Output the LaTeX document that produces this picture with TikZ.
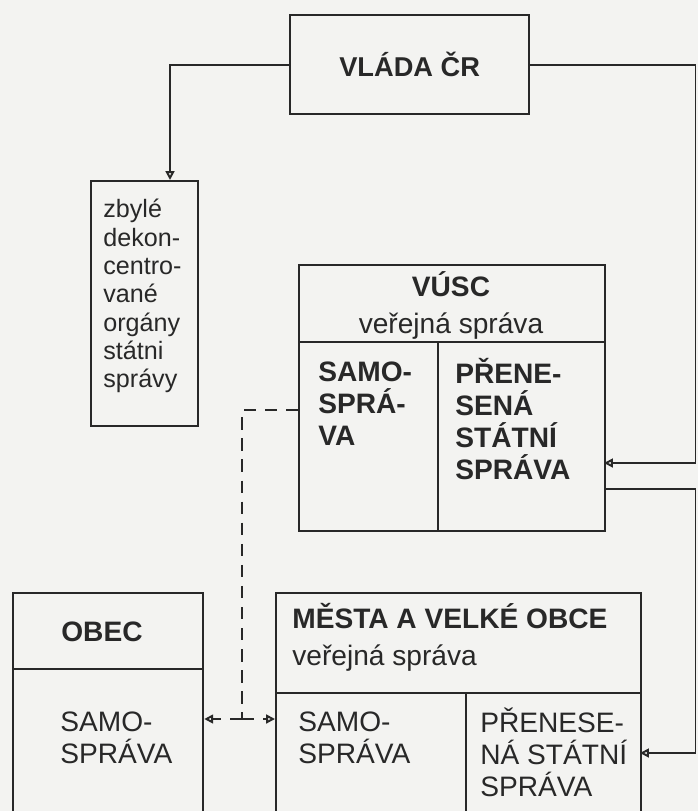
\documentclass[tikz,border=0pt]{standalone}
\usepackage{fontspec}
\setmainfont{Liberation Sans}
\usetikzlibrary{arrows.meta, positioning}
\definecolor{ink}{RGB}{40,40,40}
\definecolor{paper}{RGB}{243,243,241}

\tikzset{
  box/.style={draw=ink, line width=1.3pt, inner sep=0pt, anchor=north west},
  txt/.style={text=ink, align=left, inner sep=0pt, anchor=north west, font=\fontsize{16}{18.2}\selectfont},
  head/.style={txt, font=\fontsize{16}{21}\selectfont\bfseries},
  link/.style={draw=ink, line width=1.1pt, -{Triangle[open, length=5pt, width=5pt]}},
  dashline/.style={draw=ink, line width=1.1pt, dash pattern=on 7pt off 5pt},
  dashlink/.style={link, dash pattern=on 7pt off 5pt},
}

\begin{document}
\begin{tikzpicture}
  % paper
  \fill[paper] (0,0) rectangle (13.96,-16.22);
  \clip (0,0) rectangle (13.96,-16.22);

  % government
  \node[box, minimum width=4.78cm, minimum height=1.98cm, text=ink, font=\fontsize{15.5}{18}\selectfont\bfseries] (vlada) at (5.78,-0.28) {VLÁDA ČR};

  % remaining deconcentrated bodies
  \node[box, minimum width=2.14cm, minimum height=4.90cm] (zbyle) at (1.80,-3.60) {};
  \node[txt, font=\fontsize{14.3}{16.1}\selectfont] (zbyle-txt) at (2.06,-3.98) {zbylé\\dekon-\\centro-\\vané\\orgány\\státni\\správy};

  % VUSC
  \node[box, minimum width=6.12cm, minimum height=1.54cm] (vusc-head) at (5.96,-5.28) {};
  \node[box, minimum width=2.78cm, minimum height=3.78cm] (vusc-samo) at (5.96,-6.82) {};
  \node[box, minimum width=3.34cm, minimum height=3.78cm] (vusc-pren) at (8.74,-6.82) {};
  \node[head, align=center, anchor=north] (vusc-title) at (9.02,-5.42) {VÚSC\\{\mdseries veřejná správa}};
  \node[txt, font=\fontsize{16}{18.2}\selectfont\bfseries] (vusc-samo-txt) at (6.36,-7.24) {SAMO-\\SPRÁ-\\VA};
  \node[txt, font=\fontsize{16}{18.2}\selectfont\bfseries] (vusc-pren-txt) at (9.10,-7.16) {PŘENE-\\SENÁ\\STÁTNÍ\\SPRÁVA};

  % obec
  \node[box, minimum width=3.80cm, minimum height=1.52cm] (obec-head) at (0.24,-11.84) {};
  \node[box, minimum width=3.80cm, minimum height=4.00cm] (obec-samo) at (0.24,-13.36) {};
  \node[head] (obec-title) at (1.22,-12.44) {OBEC};
  \node[txt] (obec-samo-txt) at (1.20,-14.24) {SAMO-\\SPRÁVA};

  % mesta a velke obce
  \node[box, minimum width=7.30cm, minimum height=2.00cm] (mesta-head) at (5.50,-11.84) {};
  \node[box, minimum width=3.80cm, minimum height=3.00cm] (mesta-samo) at (5.50,-13.84) {};
  \node[box, minimum width=3.50cm, minimum height=3.00cm] (mesta-pren) at (9.30,-13.84) {};
  \node[head] (mesta-title) at (5.84,-12.06) {MĚSTA A VELKÉ OBCE\\{\mdseries veřejná správa}};
  \node[txt] (mesta-samo-txt) at (5.96,-14.24) {SAMO-\\SPRÁVA};
  \node[txt] (mesta-pren-txt) at (9.60,-14.16) {PŘENESE-\\NÁ STÁTNÍ\\SPRÁVA};

  % connector ends
  \coordinate (zbyle-in) at (3.40,-3.60);
  \coordinate (rail) at (13.91,0);
  \coordinate (vusc-in) at (12.08,-9.26);
  \coordinate (vusc-out) at (12.08,-9.78);
  \coordinate (mesta-in) at (12.80,-15.06);
  \coordinate (samo-out) at (5.96,-8.20);
  \coordinate (split) at (4.84,-14.38);

  % state administration
  \draw[link] (vlada.west) -| (zbyle-in);
  \draw[link] (vlada.east) -| (rail |- vusc-in) -- (vusc-in);
  \draw[link] (vusc-out) -| (rail |- mesta-in) -- (mesta-in);

  % self-government
  \draw[dashline] (samo-out) -| (split);
  \draw[dashlink] (split) -- (obec-samo.east |- split);
  \draw[dashlink] (split) -- (mesta-samo.west |- split);
\end{tikzpicture}
\end{document}
